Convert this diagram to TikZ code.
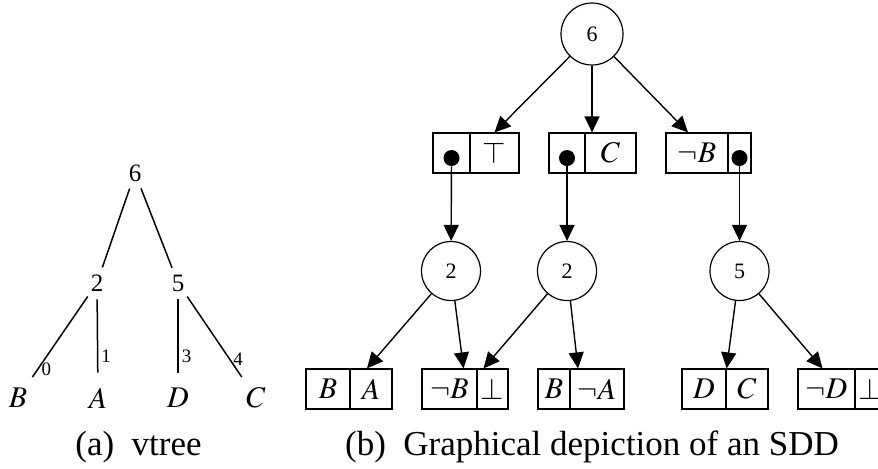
\documentclass[tikz,border=0pt]{standalone}
\usepackage{mathptmx}
\usepackage[no-math]{fontspec}
\setmainfont{Liberation Serif}
\usepackage{tikz}
\usetikzlibrary{arrows.meta}

\begin{document}
\begin{tikzpicture}[x=0.5pt, y=-0.5pt,
    vnode/.style={circle, inner sep=0pt, minimum size=16pt, font=\fontsize{12.5}{15}\selectfont},
    vleaf/.style={circle, inner sep=0pt, minimum size=25pt, font=\fontsize{15}{18}\selectfont},
    vedge/.style={line width=0.75pt},
    elab/.style={inner sep=1.5pt, font=\fontsize{9.5}{11}\selectfont},
    decn/.style={circle, draw, line width=0.6pt, inner sep=0pt, font=\fontsize{11}{13}\selectfont},
    cell/.style={draw, line width=0.6pt, inner sep=0pt, minimum height=20pt, font=\fontsize{15}{18}\selectfont},
    subdot/.style={circle, fill=black, inner sep=0pt, minimum size=8pt},
    arr/.style={line width=0.7pt, -{Triangle[length=8pt, width=7.5pt]}},
    caption/.style={anchor=base, font=\fontsize{17.5}{21}\selectfont}]
  \useasboundingbox (0,0) rectangle (878,468);
  \clip (0,0) rectangle (878,468);
  % vtree
  \node[vnode] (v6) at (135,173) {6};
  \node[vnode] (v2) at (97,283) {2};
  \node[vnode] (v5) at (178,283) {5};
  \node[vleaf] (vB) at (18,398) {$B$};
  \node[vleaf] (vA) at (98,398) {$A$};
  \node[vleaf] (vD) at (178,398) {$D$};
  \node[vleaf] (vC) at (256,398) {$C$};
  \draw[vedge] (v6) -- (v2);
  \draw[vedge] (v6) -- (v5);
  \draw[vedge] (v2) -- node[elab, pos=0.9, right] {0} (vB);
  \draw[vedge] (v2) -- node[elab, pos=0.78, right] {1} (vA);
  \draw[vedge] (v5) -- node[elab, pos=0.78, right] {3} (vD);
  \draw[vedge] (v5) -- node[elab, pos=0.78, right] {4} (vC);
  \node[caption] (capa) at (138.5,455) {(a)\enspace vtree};
  % SDD
  \node[decn, minimum size=31pt] (n6) at (592,34) {6};
  \node[cell, minimum width=18.5pt] (p1) at (451.5,153) {};
  \node[cell, minimum width=24.5pt] (s1) at (494.5,153) {$\top$};
  \node[cell, minimum width=18pt] (p2) at (567,153) {};
  \node[cell, minimum width=25.5pt] (s2) at (610.5,153) {$C$};
  \node[cell, minimum width=31pt] (p3) at (697,153) {$\neg B$};
  \node[cell, minimum width=11.5pt] (s3) at (739.5,153) {};
  \node[subdot] (t1) at (451.5,158) {};
  \node[subdot] (t2) at (567,158) {};
  \node[subdot] (t3) at (739.5,158) {};
  \node[decn, minimum size=29.5pt] (n2a) at (451,271) {2};
  \node[decn, minimum size=29.5pt] (n2b) at (567,271) {2};
  \node[decn, minimum size=29.5pt] (n5) at (739.5,271) {5};
  \node[cell, minimum width=22pt] (b1) at (328,389) {$B$};
  \node[cell, minimum width=21pt] (a1) at (371,389) {$A$};
  \node[cell, minimum width=27.5pt] (nb) at (449.5,389) {$\neg B$};
  \node[cell, minimum width=15.5pt] (f1) at (492.5,389) {$\bot$};
  \node[cell, minimum width=16pt] (b2) at (554,389) {$B$};
  \node[cell, minimum width=27pt] (na) at (597,389) {$\neg A$};
  \node[cell, minimum width=22pt] (d1) at (704,389) {$D$};
  \node[cell, minimum width=21pt] (c1) at (747,389) {$C$};
  \node[cell, minimum width=28.5pt] (nd) at (826.5,389) {$\neg D$};
  \node[cell, minimum width=15.5pt] (f2) at (870.5,389) {$\bot$};
  \draw[arr] (n6) -- (s1.north);
  \draw[arr] (n6) -- (n6 |- p2.north);
  \draw[arr] (n6) -- ([xshift=-4.5pt]p3.north);
  \draw[arr] (t1) -- (n2a);
  \draw[arr] (t2) -- (n2b);
  \draw[arr] (t3) -- (n5);
  \draw[arr] (n2a) -- ([xshift=-2pt]a1.north);
  \draw[arr] (n2a) -- ([xshift=7pt]nb.north);
  \draw[arr] (n2b) -- ([xshift=-4.5pt]f1.north);
  \draw[arr] (n2b) -- ([xshift=-9.5pt]na.north);
  \draw[arr] (n5) -- (d1.north east);
  \draw[arr] (n5) -- ([xshift=-2pt]nd.north);
  \node[caption] (capb) at (592,455) {(b)\enspace Graphical depiction of an SDD};
\end{tikzpicture}
\end{document}
